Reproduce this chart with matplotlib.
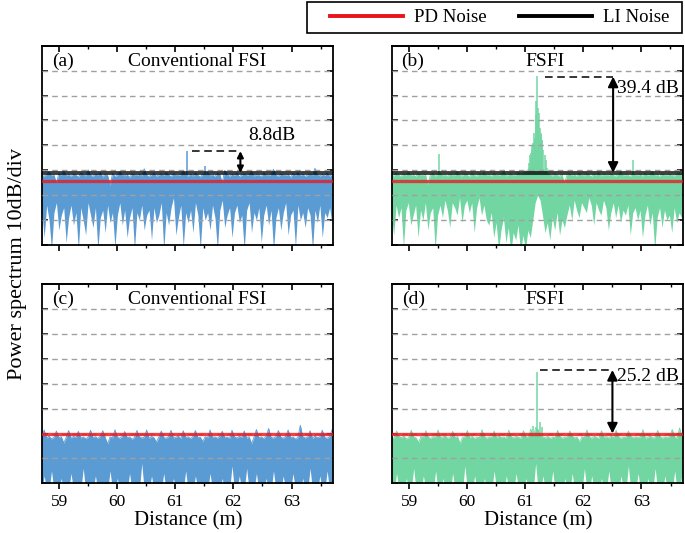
import matplotlib
matplotlib.use("Agg")
import numpy as np
import matplotlib.pyplot as plt
from matplotlib.lines import Line2D
from matplotlib.patches import Rectangle
from matplotlib.ticker import MultipleLocator

plt.rcParams["font.family"] = ["Liberation Serif", "DejaVu Serif"]

# distance axis of the traces (m): start and step of the sampled envelope
X_START = 58.70
X_STEP = 0.042

# ---- panel (a): conventional FSI, upper / lower envelope of the trace (dB)
a_upper = [28.1, 27.6, 28.4, 29.3, 27.9, 28.2, 24.6, 28.8, 28.0, 29.6, 27.8, 28.3, 27.5, 28.6, 28.1, 27.2, 28.9, 28.2, 27.7, 30.2,
           28.0, 27.6, 28.5, 28.1, 29.1, 27.3, 28.4, 27.9, 23.8, 28.7, 27.5, 28.0, 29.4, 28.1, 27.8, 28.3, 27.1, 28.6, 28.2, 27.9,
           28.4, 27.7, 30.6, 28.0, 27.5, 28.3, 28.8, 27.6, 28.1, 28.5, 27.8, 29.0, 28.2, 27.4, 28.6, 28.0, 27.9, 28.3, 29.8, 28.1,
           27.6, 28.4, 27.7, 28.9, 28.0, 27.3, 28.5, 28.2, 29.2, 27.8, 28.1, 27.5, 28.7, 28.3, 24.9, 30.0, 28.2, 27.6, 28.4, 28.0,
           28.8, 27.4, 28.1, 28.6, 27.9, 28.3, 29.5, 27.7, 28.2, 28.0, 27.5, 28.9, 28.1, 27.8, 28.4, 30.4, 28.0, 27.6, 28.5, 28.2,
           27.9, 28.3, 27.2, 28.7, 28.0, 29.1, 27.8, 28.4, 27.5, 28.1, 28.6, 27.9, 30.8, 28.2, 27.7, 28.3, 28.0, 28.8, 27.6, 28.4]
a_lower = [14, 3, 16, 10, -2, 13, 17, 6, 12, 15, 1, 11, 16, 8, 13, -2, 15, 10, 4, 17,
           12, 7, 15, -2, 11, 14, 5, 16, 9, 13, -1, 12, 17, 8, 14, 3, 11, 15, -2, 13,
           10, 16, 6, 12, 14, 2, 15, 9, 12, 17, -2, 13, 8, 15, 19, 4, 11, 16, -1, 13,
           9, 14, 5, 17, 12, -2, 15, 10, 13, 6, 16, 11, -2, 14, 18, 7, 12, 15, 3, 13,
           16, 9, 12, -2, 14, 17, 5, 13, 10, 15, 1, 12, 16, 8, 14, -2, 11, 15, 6, 13,
           17, 4, 12, 14, -1, 16, 10, 13, 7, 15, 12, -2, 14, 9, 16, 3, 13, 11, 15, 8]
a_spike_x = [61.20, 61.51]
a_spike_top = [37.7, 31.6]

# ---- panel (b): FSFI
b_upper = [28.3, 27.7, 28.9, 28.1, 27.5, 28.6, 28.0, 29.4, 27.8, 28.2, 27.4, 28.7, 28.1, 27.9, 28.4, 24.3, 28.0, 28.8, 27.6, 28.3,
           29.0, 27.8, 28.2, 27.5, 28.6, 28.1, 27.9, 29.6, 28.0, 27.7, 28.4, 28.2, 27.3, 28.8, 28.0, 27.6, 28.5, 28.1, 29.2, 27.8,
           28.3, 27.5, 28.7, 28.0, 27.9, 28.4, 30.1, 27.7, 28.2, 28.6, 27.8, 28.1, 29.3, 28.4, 28.9, 29.5, 30.2, 31.0, 32.5, 34.0,
           33.0, 31.5, 30.4, 29.6, 28.8, 28.2, 27.7, 28.5, 28.0, 27.6, 28.4, 24.6, 28.1, 28.7, 27.9, 28.3, 27.5, 28.9, 28.0, 27.8,
           28.6, 28.2, 27.4, 28.5, 28.0, 29.1, 27.7, 28.3, 28.1, 27.9, 28.6, 28.0, 27.6, 28.4, 29.4, 27.8, 28.2, 28.0, 27.5, 28.7,
           28.1, 27.9, 28.4, 27.6, 28.8, 28.0, 28.3, 29.7, 27.8, 28.2, 27.5, 28.6, 28.1, 27.9, 28.4, 28.0, 27.7, 28.5, 28.9, 28.2]
b_lower = [13, 4, 16, 11, 15, -1, 14, 17, 8, 12, 16, 3, 14, 10, 17, 6, 13, 15, -2, 12,
           16, 11, 18, 14, 7, 17, 15, 12, 19, 9, 16, 18, 13, 17, 5, 15, 19, 12, 16, 10,
           8, 13, 3, 9, -2, 6, 11, 1, 7, -3, 5, 2, 8, -3, 4, -2, 6, 3, 10, 17,
           20, 18, 12, 5, 9, 2, 11, 6, 13, 4, 10, 7, 12, 16, 10, 18, 14, 11, 17, 15,
           13, 19, 16, 8, 17, 14, 12, 18, 15, 6, 13, 17, 11, 16, 9, 14, 12, 16, 4, 13,
           15, 10, 14, 3, 12, 16, 8, 13, -2, 11, 15, 7, 14, 10, 12, 5, 15, 9, 13, 11]
b_spike_x = [59.53, 61.08, 61.09, 61.10, 61.11, 61.12, 61.13, 61.14, 61.15, 61.16, 61.17, 61.18, 61.19, 61.20, 61.21,
             61.22, 61.23, 61.24, 61.25, 61.26, 61.27, 61.28, 61.29, 61.30, 61.32, 61.34, 61.36, 61.39, 62.87]
b_spike_top = [36.4, 33, 36, 37, 35, 40, 38, 41, 39, 45, 42, 43, 52, 58, 68,
               55, 50, 46, 53, 47, 45, 44, 42, 42, 38, 36, 34, 31, 34.0]

# ---- panel (c): conventional FSI
c_upper = [18.6, 21.4, 18.2, 18.9, 17.8, 18.5, 21.0, 18.3, 18.7, 16.2, 18.4, 21.2, 18.1, 18.8, 18.4, 20.9, 18.2, 18.6, 17.9, 18.5,
           21.3, 18.3, 18.7, 18.0, 18.9, 21.1, 18.4, 15.8, 18.6, 18.2, 21.5, 18.5, 18.1, 18.8, 20.8, 18.3, 18.6, 17.7, 18.4, 21.2,
           18.7, 18.2, 18.5, 21.4, 18.0, 18.8, 18.3, 16.5, 18.6, 21.0, 18.4, 18.1, 18.7, 21.3, 18.2, 18.5, 18.9, 17.9, 21.1, 18.4,
           18.6, 18.0, 18.8, 21.2, 18.3, 18.5, 16.8, 18.7, 18.2, 21.4, 18.4, 18.6, 18.1, 18.9, 20.9, 18.3, 18.5, 18.0, 21.3, 18.6,
           18.2, 18.8, 18.4, 21.0, 18.1, 18.7, 15.9, 18.5, 21.6, 18.3, 18.6, 18.0, 18.9, 22.0, 18.4, 18.2, 18.7, 21.2, 18.5, 18.1,
           18.8, 21.4, 18.3, 18.6, 17.8, 18.4, 23.3, 18.7, 18.2, 18.5, 21.1, 18.0, 18.9, 18.3, 18.6, 21.3, 18.4, 18.1, 18.7, 21.5]
c_lower = [-3, 3, -3, -3, 5, -3, -3, -3, 2, -3, -3, -3, 4, -3, -3, -3, -3, 6, -3, -3,
           -3, -3, 3, -3, -3, -3, -3, -3, 5, -3, -3, 2, -3, -3, -3, -3, 4, -3, -3, -3,
           -3, 8, -3, -3, -3, 3, -3, -3, -3, -3, 4, -3, -3, -3, 2, -3, -3, -3, -3, 5,
           -3, -3, -3, 3, -3, -3, -3, -3, -3, 4, -3, -3, -3, -3, 2, -3, -3, -3, 7, -3,
           -3, 3, -3, -3, 6, -3, -3, -3, 4, -3, -3, -3, 2, -3, -3, 5, -3, -3, -3, 3,
           -3, -3, -3, 4, -3, -3, -3, 2, -3, -3, 6, -3, -3, -3, 3, -3, -3, 5, -3, -3]

# ---- panel (d): FSFI
d_upper = [18.5, 18.1, 21.0, 18.7, 18.3, 18.9, 17.8, 18.4, 21.3, 18.6, 18.2, 16.4, 18.8, 18.3, 21.1, 18.5, 18.0, 18.7, 18.4, 21.4,
           18.2, 18.6, 18.9, 18.1, 18.5, 20.9, 18.3, 18.7, 16.0, 18.4, 18.6, 21.2, 18.2, 18.8, 18.0, 18.5, 18.3, 21.5, 18.7, 18.1,
           18.6, 18.4, 21.0, 18.2, 18.9, 18.3, 18.5, 18.0, 21.3, 18.6, 18.2, 18.8, 18.4, 18.1, 21.1, 18.7, 18.3, 21.8, 18.5, 22.4,
           21.6, 18.4, 18.6, 18.2, 18.8, 18.0, 18.5, 18.3, 21.2, 18.7, 18.1, 18.6, 18.4, 21.0, 18.9, 18.2, 18.5, 16.6, 18.7, 18.3,
           21.4, 18.6, 18.1, 18.8, 18.4, 18.0, 21.1, 18.5, 18.7, 18.2, 18.9, 18.3, 21.3, 18.6, 18.1, 18.5, 18.4, 21.0, 18.8, 18.2,
           18.6, 18.3, 18.7, 21.5, 18.0, 18.5, 18.9, 18.2, 18.4, 21.2, 18.7, 18.1, 18.6, 18.3, 18.8, 21.6, 18.4, 18.2, 22.2, 18.5]
d_lower = [-3, -3, 4, -3, -3, -3, 2, -3, -3, 6, -3, -3, -3, 3, -3, -3, -3, -3, 5, -3,
           -3, 2, -3, -3, -3, 4, -3, -3, -3, -3, 7, -3, -3, -3, 3, -3, -3, -3, 2, -3,
           -3, -3, 5, -3, -3, -3, -3, 3, -3, -3, -3, 4, -3, -3, -3, 2, -3, -3, -3, 8,
           -3, -3, 3, -3, -3, -3, 5, -3, -3, -3, -3, 2, -3, -3, 4, -3, -3, -3, -3, 6,
           -3, -3, 3, -3, -3, -3, 2, -3, -3, 5, -3, -3, -3, -3, 3, -3, -3, 7, -3, -3,
           -3, 4, -3, -3, -3, 2, -3, -3, 6, -3, -3, -3, 3, -3, -3, -3, 5, -3, -3, 4]
d_spike_x = [61.14, 61.20, 61.25, 61.29]
d_spike_top = [23.0, 44.6, 24.5, 22.5]

# noise reference levels (dB)
pd_level_top = 25.6
li_level_top = 29.0
pd_level_bottom = 20.0

# annotations: (peak level, reference level, dashed start, arrow x, text x, text y, text, head size)
annotations = {
    "a": (37.7, 29.0, 61.29, 62.12, 62.66, 44.0, "8.8dB", 9),
    "b": (67.6, 29.0, 61.35, 62.52, 62.58, 63.0, "39.4 dB", 15),
    "d": (45.5, 20.0, 61.25, 62.50, 62.58, 43.0, "25.2 dB", 15),
}

BLUE = "#5B9BD3"
GREEN = "#72D6A3"
RED = "#E8141B"


def style_axes(ax, show_xlabels):
    ax.set_xlim(58.71, 63.72)
    ax.set_ylim(0, 80)
    ax.xaxis.set_major_locator(MultipleLocator(1))
    ax.xaxis.set_minor_locator(MultipleLocator(0.5))
    ax.yaxis.set_major_locator(MultipleLocator(10))
    ax.set_yticklabels([])
    ax.tick_params(axis="y", which="both", direction="in", left=True, right=True,
                   length=4, width=1.2, labelleft=False)
    ax.tick_params(axis="x", which="major", direction="out", length=4, width=1.2, labelsize=12.5)
    ax.tick_params(axis="x", which="minor", direction="out", length=2.5, width=1.0)
    for y in range(10, 80, 10):
        ax.axhline(y, color="#a0a0a0", lw=1.0, ls=(0, (4, 3)), zorder=3)
    top = ax.secondary_xaxis("top")
    top.xaxis.set_major_locator(MultipleLocator(1))
    top.xaxis.set_minor_locator(MultipleLocator(0.5))
    top.tick_params(axis="x", which="major", direction="in", length=4, width=1.2, labeltop=False)
    top.tick_params(axis="x", which="minor", direction="in", length=2.5, width=1.0)
    top.spines["top"].set_linewidth(1.3)
    for s in ax.spines.values():
        s.set_linewidth(1.3)
    if show_xlabels:
        ax.set_xlabel("Distance (m)", fontsize=15, labelpad=1)
    else:
        ax.set_xticklabels([])


def annotate(ax, key):
    peak, ref, x0, xa, xt, yt, text, head = annotations[key]
    ax.plot([x0, xa], [peak, peak], color="black", lw=1.1, ls=(0, (5, 3)), zorder=6)
    ax.annotate("", xy=(xa, ref), xytext=(xa, peak),
                arrowprops=dict(arrowstyle="<|-|>", color="black", lw=1.5,
                                mutation_scale=head, shrinkA=0, shrinkB=0), zorder=7)
    ha = "center" if key == "a" else "left"
    ax.text(xt, yt, text, fontsize=14, ha=ha, va="center", zorder=8)


fig = plt.figure(figsize=(6.85, 5.33), dpi=100)

W = 0.4248
H = 0.3739
ax_a = fig.add_axes([0.0618, 0.5403, W, H])
ax_b = fig.add_axes([0.5720, 0.5403, W, H])
ax_c = fig.add_axes([0.0618, 0.0932, W, H])
ax_d = fig.add_axes([0.5727, 0.0932, W, H])

panels = [
    (ax_a, a_upper, a_lower, a_spike_x, a_spike_top, BLUE, "(a)", "Conventional FSI", 0.532, True),
    (ax_b, b_upper, b_lower, b_spike_x, b_spike_top, GREEN, "(b)", "FSFI", 0.526, True),
    (ax_c, c_upper, c_lower, [], [], BLUE, "(c)", "Conventional FSI", 0.532, False),
    (ax_d, d_upper, d_lower, d_spike_x, d_spike_top, GREEN, "(d)", "FSFI", 0.526, False),
]

for ax, up, lo, sx, st, color, tag, title, tx, top_row in panels:
    x = X_START + X_STEP * np.arange(len(up))
    ax.fill_between(x, lo, up, color=color, lw=0, zorder=2)
    ax.plot(x, up, color=color, lw=0.6, zorder=2)
    if sx:
        base = 27 if top_row else 18
        ax.vlines(sx, base, st, color=color, lw=1.1, zorder=2)
    if top_row:
        ax.axhline(pd_level_top, color=RED, lw=2.4, alpha=0.75, zorder=4)
        ax.axhline(li_level_top, color="black", lw=2.8, alpha=0.75, zorder=5)
    else:
        ax.axhline(pd_level_bottom, color=RED, lw=2.4, alpha=0.8, zorder=4)
    style_axes(ax, not top_row)
    ax.text(0.033, 0.923, tag, transform=ax.transAxes, fontsize=14, ha="left", va="center", zorder=8)
    ax.text(tx, 0.923, title, transform=ax.transAxes, fontsize=14, ha="center", va="center", zorder=8)

annotate(ax_a, "a")
annotate(ax_b, "b")
annotate(ax_d, "d")

fig.text(0.026, 0.505, "Power spectrum 10dB/div", rotation=90, fontsize=16,
         ha="center", va="center")

# legend frame drawn separately so the inner padding can follow the original
fig.patches.append(Rectangle((307 / 685, 1 - 33 / 533), 375 / 685, 31 / 533,
                             transform=fig.transFigure, fill=False, edgecolor="black", lw=1.2))
handles = [Line2D([], [], color=RED, lw=2.8), Line2D([], [], color="black", lw=2.8)]
fig.legend(handles, ["PD Noise", "LI Noise"], loc="center left",
           bbox_to_anchor=(330 / 685, 1 - 17.5 / 533), ncol=2, fontsize=13.5, frameon=False,
           handlelength=3.9, handletextpad=0.6, columnspacing=1.7, borderpad=0, borderaxespad=0)

fig.savefig("out.png", dpi=100)
